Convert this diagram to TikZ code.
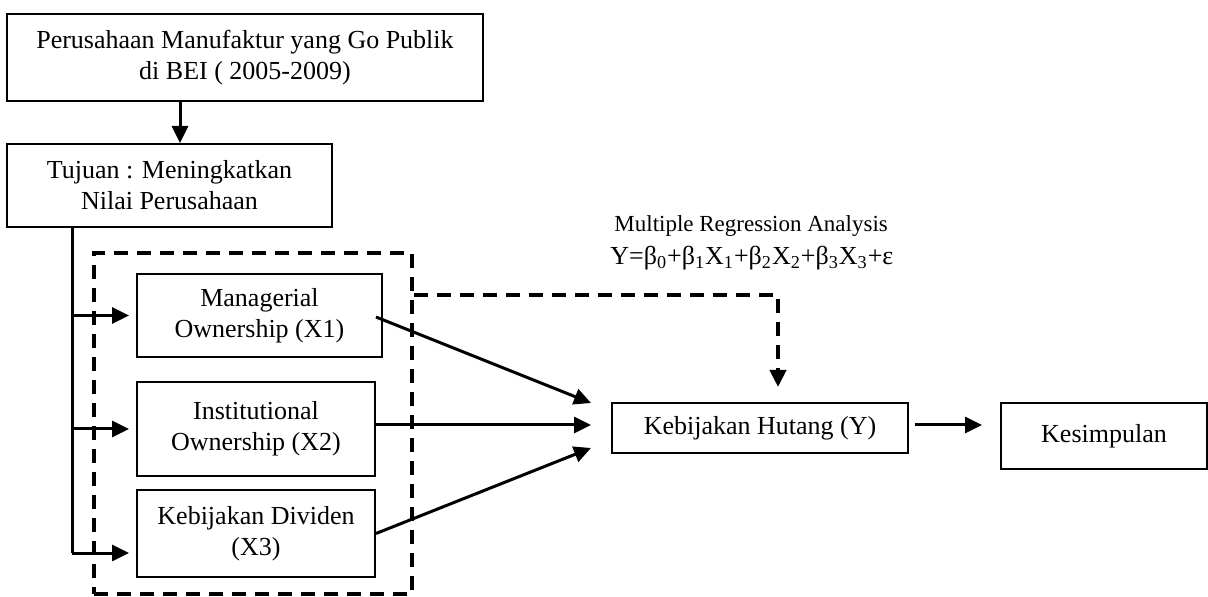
\documentclass[tikz,border=0pt]{standalone}
\usepackage{fontspec}
\setmainfont{Liberation Serif}
\usetikzlibrary{arrows.meta, positioning, calc}

\begin{document}
\begin{tikzpicture}[x=0.5pt, y=-0.5pt,
  font=\fontsize{13}{15.5}\selectfont,
  box/.style={draw, line width=1pt, align=center, inner sep=0pt, fill=white},
  arr/.style={-{Triangle[length=8.5pt,width=8pt]}, line width=1.5pt},
  dsh/.style={line width=2pt, dash pattern=on 7pt off 4.5pt}]
\useasboundingbox (0,0) rectangle (1208,597);

% dashed group round the three variables
\node[dsh, draw, minimum width=159pt, minimum height=170.5pt, inner sep=0pt] (grp) at (253,423.5) {};

\node[box, minimum width=238pt, minimum height=43.5pt] (pop) at (245,57.5)
  {Perusahaan Manufaktur yang Go Publik\\di BEI ( 2005-2009)};
\node[box, minimum width=162.5pt, minimum height=41.5pt] (tujuan) at (169.5,185.5)
  {Tujuan : Meningkatkan\\Nilai Perusahaan};
\node[box, minimum width=122.5pt, minimum height=41.5pt] (x1) at (259.5,315.5)
  {Managerial\\Ownership (X1)};
\node[box, minimum width=119pt, minimum height=47pt] (x2) at (256,429)
  {Institutional\\Ownership (X2)};
\node[box, minimum width=119pt, minimum height=43.5pt] (x3) at (256,533.5)
  {Kebijakan Dividen\\(X3)};
\node[box, minimum width=148pt, minimum height=25pt] (hutang) at (760,428)
  {Kebijakan Hutang (Y)};
\node[box, minimum width=103pt, minimum height=33pt] (kes) at (1104,436)
  {Kesimpulan};

\node[anchor=base west, inner sep=0pt, font=\fontsize{11.5}{14}\selectfont] (mra) at (614,232)
  {Multiple Regression Analysis};
\node[anchor=base west, inner sep=0pt] (eqn) at (610,265)
  {Y=β\textsubscript{0}+β\textsubscript{1}X\textsubscript{1}+β\textsubscript{2}X\textsubscript{2}+β\textsubscript{3}X\textsubscript{3}+ε};

% population to goal
\draw[arr] (pop.south -| 180,0) -- (tujuan.north -| 180,0);

% branches to the three variables
\coordinate (tr) at (72,553);
\draw[line width=1.5pt] (tujuan.south -| tr) -- (tr);
\draw[arr, shorten >=3.5pt] (tr |- x1.west) -- (x1.west);
\draw[arr, shorten >=3.5pt] (tr |- x2.west) -- (x2.west);
\draw[arr, shorten >=3.5pt] (tr) -- (tr -| x3.west);

% variables to Y
\coordinate (in1) at (591,403);
\coordinate (in2) at (591,425);
\coordinate (in3) at (591,448);
\draw[arr] ($(x1.east)+(-7,1.5)$) -- (in1);
\draw[arr] (x2.east |- in2) -- (in2);
\draw[arr] (x3.east) -- (in3);

% regression
\coordinate (corner) at (778,295);
\draw[arr, dsh, shorten >=7.5pt] (grp.east |- corner) -- (corner) -- (corner |- hutang.north);

\draw[arr, shorten <=3pt, shorten >=9pt] (hutang.east |- in2) -- (kes.west |- in2);
\end{tikzpicture}
\end{document}
